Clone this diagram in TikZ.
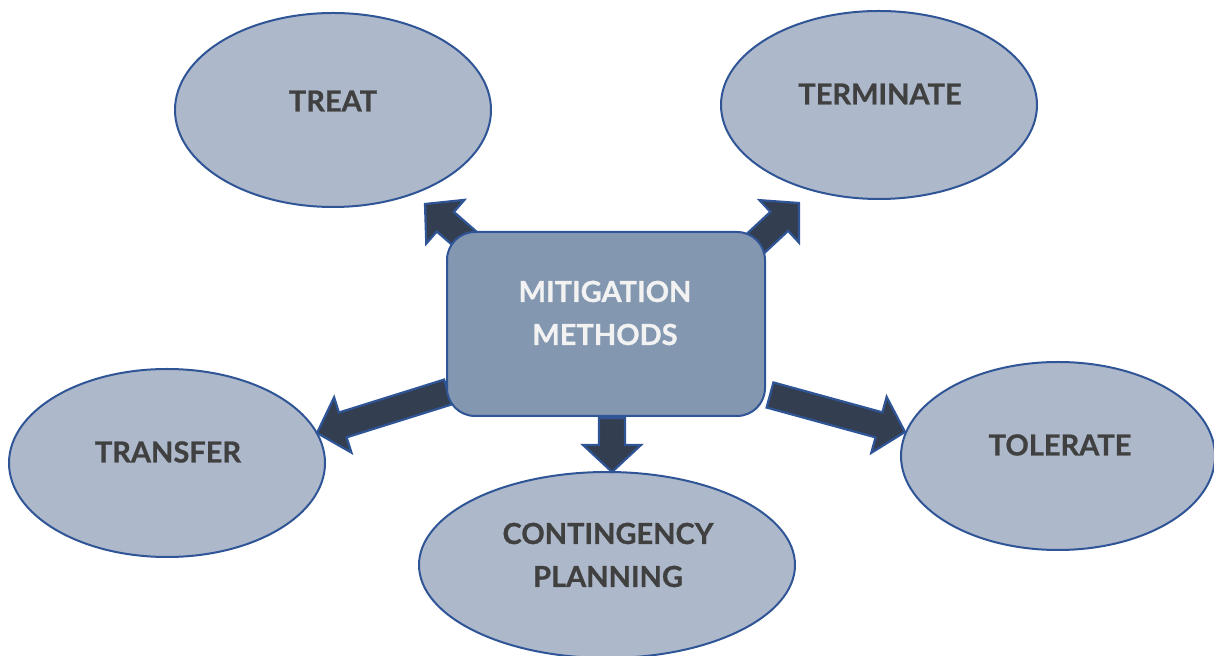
\documentclass[tikz,border=0pt]{standalone}
\usepackage{fontspec}
\setmainfont{Lato}[BoldFeatures={FakeBold=0.8}]
\usetikzlibrary{calc,shapes.geometric}
\definecolor{ellfill}{HTML}{ADB9CA}
\definecolor{rectfill}{HTML}{8497B0}
\definecolor{edgeblue}{HTML}{2F5597}
\definecolor{arrfill}{HTML}{333F50}
\definecolor{txtgray}{HTML}{404040}
\definecolor{txtwhite}{HTML}{F2F2F2}
\tikzset{
  ell/.style={ellipse, draw=edgeblue, fill=ellfill, line width=1pt, inner sep=0pt},
  centerbox/.style={rectangle, rounded corners=14pt, draw=edgeblue, fill=rectfill, line width=1pt, inner sep=0pt, minimum width=159pt, minimum height=92pt},
  lbl/.style={text=txtgray, font=\fontsize{14.5}{21.5}\selectfont\bfseries, align=center, inner sep=0pt},
  clbl/.style={text=txtwhite, font=\fontsize{14.5}{21.5}\selectfont\bfseries, align=center, inner sep=0pt},
  blockarr/.style={fill=arrfill, draw=edgeblue, line width=1.1pt, line join=miter},
}
\newcommand{\blockarrow}[2]{%
  \coordinate (#1b) at ($(#2)!13.5pt!(#1)$);
  \path[blockarr]
    ($(#1)!6.5pt!90:(#2)$) --
    ($(#1b)!6.5pt!-90:(#1)$) --
    ($(#1b)!14.5pt!-90:(#1)$) --
    (#2) --
    ($(#1b)!14.5pt!90:(#1)$) --
    ($(#1b)!6.5pt!90:(#1)$) --
    ($(#1)!6.5pt!-90:(#2)$) -- cycle;
}
\begin{document}
\begin{tikzpicture}[x=0.5pt, y=-0.5pt]
\useasboundingbox (0,0) rectangle (1214,656);
\clip (0,0) rectangle (1214,656);
% ellipses
\node[ell, minimum width=158pt, minimum height=97pt] (treat) at (333,110) {};
\node[ell, minimum width=158pt, minimum height=94pt] (term) at (879,105) {};
\node[ell, minimum width=158pt, minimum height=94pt] (transfer) at (167,463) {};
\node[ell, minimum width=188pt, minimum height=93pt] (cont) at (607,565) {};
\node[ell, minimum width=157pt, minimum height=94pt] (tol) at (1058,456) {};
% arrows
\coordinate (ta) at (472,245); \coordinate (th) at (425,204);
\coordinate (ma) at (756,243); \coordinate (mh) at (799,203);
\coordinate (fa) at (448,392); \coordinate (fh) at (317,433);
\coordinate (ca) at (612,418); \coordinate (ch) at (612,472);
\coordinate (oa) at (770,395); \coordinate (oh) at (905,432);
\blockarrow{ta}{th}
\blockarrow{ma}{mh}
\blockarrow{fa}{fh}
\blockarrow{ca}{ch}
\blockarrow{oa}{oh}
% center box
\node[centerbox] (m) at (606,324) {};
% labels
\node[clbl] (mt) at (605,313) {MITIGATION\\METHODS};
\node[lbl] (treatt) at (333,101) {TREAT};
\node[lbl] (termt) at (880,94) {TERMINATE};
\node[lbl] (transfert) at (168,452) {TRANSFER};
\node[lbl] (tolt) at (1060,445) {TOLERATE};
\node[lbl] (contt) at (608,555) {CONTINGENCY\\PLANNING};
\end{tikzpicture}
\end{document}
